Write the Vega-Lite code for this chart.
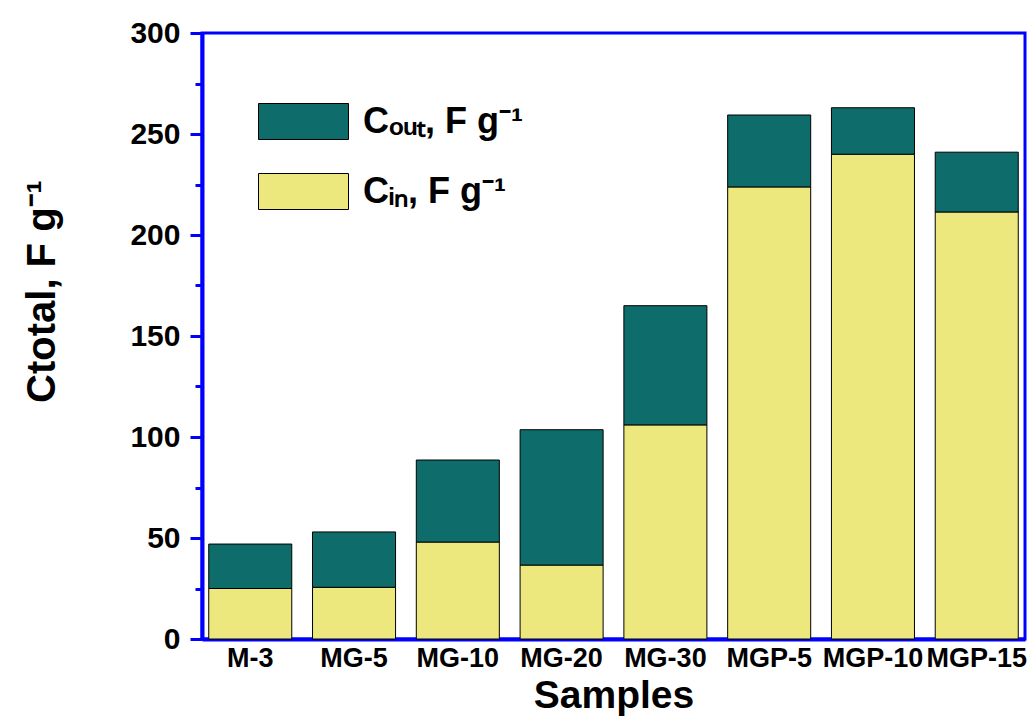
{
  "$schema": "https://vega.github.io/schema/vega-lite/v6.json",
  "width": 823,
  "height": 606,
  "autosize": {"type": "none"},
  "padding": {"left": 202, "top": 33, "right": 10, "bottom": 79},
  "background": "white",
  "config": {
    "font": "Liberation Sans",
    "view": {"stroke": "#0000ff", "strokeWidth": 3},
    "axis": {"grid": false, "labelFont": "Liberation Sans", "titleFont": "Liberation Sans", "labelFontWeight": "bold", "titleFontWeight": "bold", "labelColor": "black", "titleColor": "black", "domainColor": "#0000ff", "domainWidth": 4, "tickColor": "#0000ff", "tickWidth": 3}
  },
  "data": {"values": [
    {"sample": "M-3", "series": "in", "value": 25},
    {"sample": "M-3", "series": "out", "value": 22},
    {"sample": "MG-5", "series": "in", "value": 25.6},
    {"sample": "MG-5", "series": "out", "value": 27.4},
    {"sample": "MG-10", "series": "in", "value": 48},
    {"sample": "MG-10", "series": "out", "value": 40.6},
    {"sample": "MG-20", "series": "in", "value": 36.6},
    {"sample": "MG-20", "series": "out", "value": 67},
    {"sample": "MG-30", "series": "in", "value": 106},
    {"sample": "MG-30", "series": "out", "value": 59},
    {"sample": "MGP-5", "series": "in", "value": 223.8},
    {"sample": "MGP-5", "series": "out", "value": 35.6},
    {"sample": "MGP-10", "series": "in", "value": 240},
    {"sample": "MGP-10", "series": "out", "value": 23},
    {"sample": "MGP-15", "series": "in", "value": 211.4},
    {"sample": "MGP-15", "series": "out", "value": 29.6}
  ]},
  "layer": [
    {
      "mark": {"type": "bar", "stroke": "black", "strokeWidth": 1},
      "encoding": {
        "x": {"field": "sample", "type": "nominal", "sort": null,
          "scale": {"paddingInner": 0.2, "paddingOuter": 0.065},
          "axis": {"title": "Samples", "titleFontSize": 39, "titlePadding": 5, "labelFontSize": 27, "labelAngle": 0, "labelPadding": 6, "ticks": false, "labelOverlap": false}},
        "y": {"field": "value", "type": "quantitative", "stack": "zero",
          "scale": {"domain": [0, 300], "nice": false},
          "axis": {"title": "Ctotal, F g⁻¹", "titleFontSize": 40, "titleX": -140, "titleY": 258, "labelFontSize": 30, "values": [0, 50, 100, 150, 200, 250, 300], "tickSize": 12, "labelPadding": 10}},
        "color": {"field": "series", "type": "nominal",
          "scale": {"domain": ["out", "in"], "range": ["#0e6d6a", "#ece87e"]},
          "legend": {"orient": "none", "legendX": 56, "legendY": 43, "title": null,
            "symbolType": "M-1,-0.4H1V0.4H-1Z", "symbolSize": 8100, "symbolStrokeColor": "black", "symbolStrokeWidth": 1, "symbolOpacity": 1,
            "rowPadding": 4, "labelOffset": 14, "labelFontSize": 36, "labelFontWeight": "bold", "labelColor": "black", "labelFont": "Liberation Sans",
            "labelExpr": "datum.value == 'out' ? 'Cₒᵤₜ, F g⁻¹' : 'Cᵢₙ, F g⁻¹'"}},
        "order": {"field": "series", "sort": "ascending"}
      }
    },
    {
      "mark": {"type": "bar", "opacity": 0},
      "encoding": {
        "x": {"field": "sample", "type": "nominal", "sort": null},
        "y": {"field": "value", "type": "quantitative", "stack": "zero",
          "axis": {"orient": "left", "title": null, "labels": false, "domain": false, "values": [25, 75, 125, 175, 225, 275], "tickSize": 7}}
      }
    }
  ],
  "resolve": {"axis": {"y": "independent"}}
}
